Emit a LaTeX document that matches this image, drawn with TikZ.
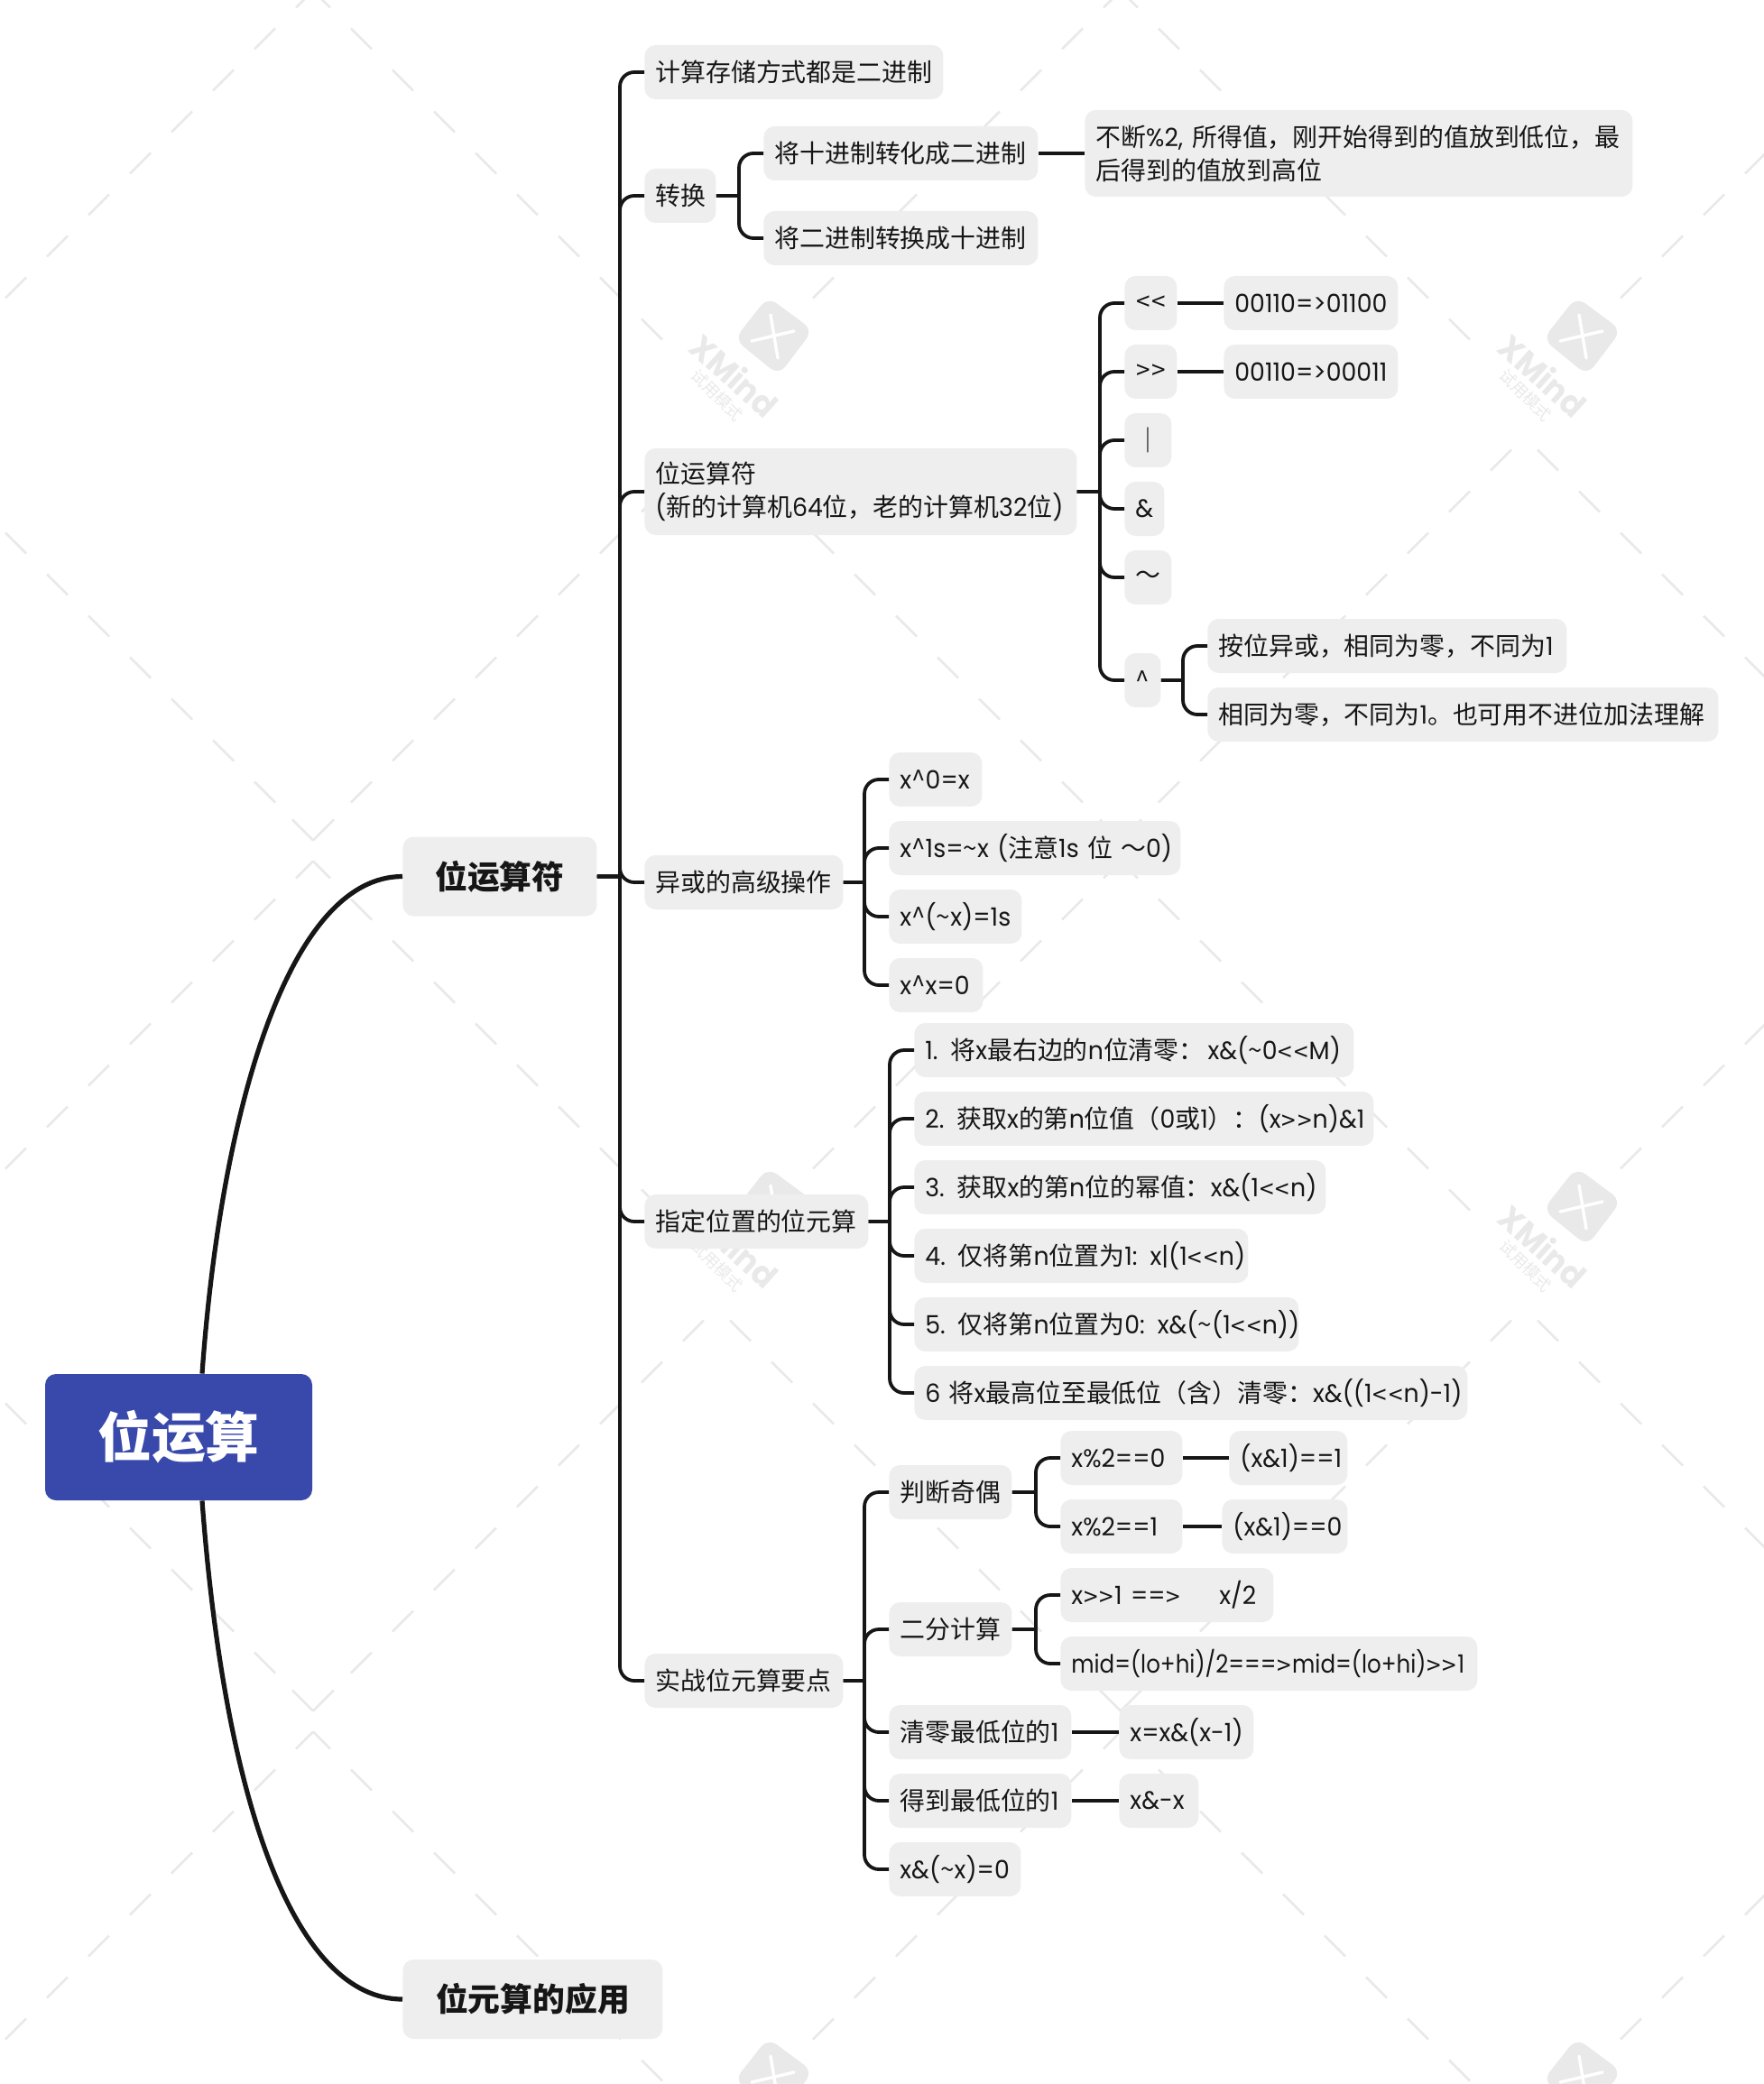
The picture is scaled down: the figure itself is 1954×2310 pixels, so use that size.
\documentclass[tikz,border=0pt]{standalone}
\usepackage{fontspec}
\setmainfont{Noto Sans CJK SC}
\newfontfamily\latinfont[FakeStretch=0.96]{Poppins}
\newfontfamily\latinnarrow[FakeStretch=0.88]{Poppins}
\newcommand{\la}[1]{{\latinfont #1}}
\newcommand{\lessop}{{\normalfont\kern0.5pt\raisebox{-0.8pt}{<}\kern0.5pt}}
\newcommand{\moreop}{{\normalfont\kern0.5pt\raisebox{-0.8pt}{>}\kern0.5pt}}
\newcommand{\caretop}{{\normalfont\textasciicircum}}
\newcommand{\tildeop}{{\normalfont\textasciitilde}}
\usetikzlibrary{calc}

\definecolor{nodegray}{HTML}{EEEEEE}
\definecolor{rootblue}{HTML}{3949AB}
\definecolor{inkblack}{HTML}{161616}
\definecolor{markgray}{HTML}{E9E9E9}

\tikzset{
  leaf/.style={anchor=west, fill=nodegray, text=inkblack, rounded corners=6pt, inner xsep=6pt, inner ysep=0pt,
    minimum height=30pt, align=left, text width=#1*0.5pt-12pt, font=\fontsize{13.95pt}{18.4pt}\selectfont},
  twoline/.style={minimum height=48pt},
  maintopic/.style={anchor=west, fill=nodegray, text=inkblack, rounded corners=6pt, inner sep=0pt,
    minimum height=44pt, minimum width=#1*0.5pt, font=\fontsize{17.9pt}{22pt}\selectfont\bfseries},
  roottopic/.style={fill=rootblue, text=white, rounded corners=6pt, inner sep=0pt,
    minimum width=148pt, minimum height=70pt, font=\fontsize{29.9pt}{34pt}\selectfont\bfseries},
  branch/.style={color=inkblack, line width=1.9pt, rounded corners=8pt},
  fork/.style={to path={-- ([xshift=-13.5pt]\tikztotarget.west |- \tikztostart) ++(0,0) |- (\tikztotarget.west)}},
  limb/.style={draw=inkblack, line width=2.6pt},
  markdash/.style={draw=markgray, line width=1.3pt},
}

\begin{document}
\begin{tikzpicture}[x=0.5pt,y=-0.5pt]
  \useasboundingbox (0,0) rectangle (1954,2310);

  % watermark
  \foreach \cx in {347,1242,2137}
    \foreach \cy in {-22,943,1908} {
      \draw[markdash] (\cx,\cy+11.5) -- ++(-19,19) (\cx,\cy+11.5) -- ++(19,19);
      \draw[markdash] (\cx,\cy-11.5) -- ++(-23,-23) (\cx,\cy-11.5) -- ++(23,-23);
      \foreach \i in {1,...,7}
        \draw[markdash] ({\cx+4-46*\i},{\cy+7.5+46*\i}) -- ++(-23,23);
      \foreach \i in {1,...,8}
        \draw[markdash] ({\cx-4+46*\i},{\cy+7.5+46*\i}) -- ++(23,23);
      \foreach \i in {1,...,9} {
        \draw[markdash] ({\cx+4-46*\i},{\cy-7.5-46*\i}) -- ++(-23,-23);
        \draw[markdash] ({\cx-4+46*\i},{\cy-7.5-46*\i}) -- ++(23,-23);
      }
    }
  \foreach \mx in {857,1753} {
    \foreach \my in {372,1337,2302} {
      \fill[markgray, rounded corners=6pt] (\mx-6,\my-43) -- (\mx+44,\my-6) -- (\mx+6,\my+44) -- (\mx-43,\my+4) -- cycle;
      \draw[white, line width=1.7pt, line cap=round] (\mx-3,\my-23) -- (\mx+5,\my+25) (\mx-24,\my+6) -- (\mx+23,\my-5);
    }
    \foreach \my in {372,1337} {
      \node[text=markgray, rotate=-42, font=\fontsize{18.3pt}{20pt}\selectfont\latinfont\bfseries] (mark-\mx-\my) at (\mx-43,\my+44) {XMind};
      \node[text=markgray, rotate=-45, font=\fontsize{9pt}{10pt}\selectfont] (trial-\mx-\my) at (\mx-62,\my+66) {试用模式};
    }
  }

  % root and main topics
  \node[roottopic] (root) at (198,1593) {位运算};
  \node[maintopic=215] (bitops) at (446,971.5) {位运算符};
  \node[maintopic=288] (bitapply) at (446,2216) {位元算的应用};

  % second level
  \node[leaf=331] (store) at (714,80) {计算存储方式都是二进制};
  \node[leaf=79] (convert) at (714,217) {转换};
  \node[leaf=479, twoline] (operators) at (714,545) {位运算符\\\la{(}新的计算机\la{64}位，老的计算机\la{32}位\la{)}};
  \node[leaf=220] (xoradv) at (714,978) {异或的高级操作};
  \node[leaf=248] (position) at (714,1354) {指定位置的位元算};
  \node[leaf=220] (practice) at (714,1863) {实战位元算要点};

  % conversion
  \node[leaf=304] (dectobin) at (846,170) {将十进制转化成二进制};
  \node[leaf=304] (bintodec) at (846,264) {将二进制转换成十进制};
  \node[leaf=607, twoline] (dectonote) at (1202,170) {\mbox{不断\la{\%2,}\kern5pt 所得值，刚开始得到的值放到低位，最}\\后得到的值放到高位};

  % operators
  \node[leaf=58] (shl) at (1246,336) {\lessop\lessop};
  \node[leaf=58] (shr) at (1246,412) {\moreop\moreop};
  \node[leaf=52] (opor) at (1246,488) {｜};
  \node[leaf=44] (opand) at (1246,564) {\la{\&}};
  \node[leaf=52] (opnot) at (1246,640) {～};
  \node[leaf=40] (opxor) at (1246,754) {\caretop};
  \node[leaf=193] (shlnote) at (1356,336) {\la{00110=>01100}};
  \node[leaf=193] (shrnote) at (1356,412) {\la{00110=>00011}};
  \node[leaf=398] (xornote) at (1338,716) {按位异或，相同为零，不同为\la{1}};
  \node[leaf=566] (xorsum) at (1338,792) {相同为零，不同为\la{1}。也可用不进位加法理解};

  % xor tricks
  \node[leaf=103] (xorzero) at (985,864) {\la{x}\caretop\la{0=x}};
  \node[leaf=323] (xorones) at (985,940) {\mbox{\la{x}\caretop\la{1s=}\tildeop\la{x (}注意\la{1s} 位 ～\la{0)}}};
  \node[leaf=147] (xornot) at (985,1016) {\la{x}\caretop\la{(}\tildeop\la{x)=1s}};
  \node[leaf=104] (xorself) at (985,1092) {\la{x}\caretop\la{x=0}};

  % position operations
  \node[leaf=487] (posone) at (1013,1164) {\mbox{\la{1.} 将\la{x}最右边的\la{n}位清零：\kern2pt\la{x\&(}\tildeop\la{0}\lessop\lessop\la{M)}}};
  \node[leaf=509] (postwo) at (1013,1240) {\mbox{\la{2.} 获取\la{x}的第\la{n}位值（\la{0}或\la{1}）：\la{(x}\moreop\moreop\la{n)\&1}}};
  \node[leaf=456] (posthree) at (1013,1316) {\mbox{\la{3.} 获取\la{x}的第\la{n}位的幂值：\la{x\&(1}\lessop\lessop\la{n)}}};
  \node[leaf=370] (posfour) at (1013,1392) {\mbox{\la{4.} 仅将第\la{n}位置为\la{1: x|(1}\lessop\lessop\la{n)}}};
  \node[leaf=426] (posfive) at (1013,1468) {\mbox{\la{5.} 仅将第\la{n}位置为\la{0: x\&(}\tildeop\la{(1}\lessop\lessop\la{n))}}};
  \node[leaf=613] (possix) at (1013,1544) {\mbox{\la{6} 将\la{x}最高位至最低位（含）清零：\la{x\&((1}\lessop\lessop\la{n)-1)}}};

  % practice
  \node[leaf=136] (parity) at (985,1654) {判断奇偶};
  \node[leaf=136] (halving) at (985,1806) {二分计算};
  \node[leaf=202] (clearlow) at (985,1920) {清零最低位的\la{1}};
  \node[leaf=202] (getlow) at (985,1996) {得到最低位的\la{1}};
  \node[leaf=146] (andnot) at (985,2072) {\la{x\&(}\tildeop\la{x)=0}};
  \node[leaf=135] (modzero) at (1175,1616) {\la{x\%2==0}};
  \node[leaf=135] (modone) at (1175,1692) {\la{x\%2==1}};
  \node[leaf=131] (andone) at (1362,1616) {\la{(x\&1)==1}};
  \node[leaf=139] (andzero) at (1354,1692) {\la{(x\&1)==0}};
  \node[leaf=236] (shiftdiv) at (1175,1768) {\mbox{\la{x}\moreop\moreop\la{1 ==}\moreop\hspace{21pt}\la{x/2}}};
  \node[leaf=462] (midcalc) at (1175,1844) {\mbox{\latinnarrow mid=(lo+hi)/2===\moreop mid=(lo+hi)\moreop\moreop 1}};
  \node[leaf=149] (clearval) at (1240,1920) {\mbox{\la{x=x\&(x-1)}}};
  \node[leaf=88] (getval) at (1240,1996) {\mbox{\la{x\&-x}}};

  % connectors
  \draw[limb] ([xshift=13pt]root.north) .. controls (245,1230) and (320,971.5) .. (bitops.west);
  \draw[limb] ([xshift=13pt]root.south) .. controls (250,2010) and (330,2216) .. (bitapply.west);
  \path[branch]
    (bitops.east) edge[fork] (store)
    (bitops.east) edge[fork] (convert)
    (bitops.east) edge[fork] (operators)
    (bitops.east) edge[fork] (xoradv)
    (bitops.east) edge[fork] (position)
    (bitops.east) edge[fork] (practice)
    (convert.east) edge[fork] (dectobin)
    (convert.east) edge[fork] (bintodec)
    (operators.east) edge[fork] (shl)
    (operators.east) edge[fork] (shr)
    (operators.east) edge[fork] (opor)
    (operators.east) edge[fork] (opand)
    (operators.east) edge[fork] (opnot)
    (operators.east) edge[fork] (opxor)
    (opxor.east) edge[fork] (xornote)
    (opxor.east) edge[fork] (xorsum)
    (xoradv.east) edge[fork] (xorzero)
    (xoradv.east) edge[fork] (xorones)
    (xoradv.east) edge[fork] (xornot)
    (xoradv.east) edge[fork] (xorself)
    (position.east) edge[fork] (posone)
    (position.east) edge[fork] (postwo)
    (position.east) edge[fork] (posthree)
    (position.east) edge[fork] (posfour)
    (position.east) edge[fork] (posfive)
    (position.east) edge[fork] (possix)
    (practice.east) edge[fork] (parity)
    (practice.east) edge[fork] (halving)
    (practice.east) edge[fork] (clearlow)
    (practice.east) edge[fork] (getlow)
    (practice.east) edge[fork] (andnot)
    (parity.east) edge[fork] (modzero)
    (parity.east) edge[fork] (modone)
    (halving.east) edge[fork] (shiftdiv)
    (halving.east) edge[fork] (midcalc)
    ;
  \path[branch]
    (dectobin.east) edge (dectonote.west)
    (shl.east) edge (shlnote.west)
    (shr.east) edge (shrnote.west)
    (modzero.east) edge (andone.west)
    (modone.east) edge (andzero.west)
    (clearlow.east) edge (clearval.west)
    (getlow.east) edge (getval.west)
    ;
\end{tikzpicture}
\end{document}
